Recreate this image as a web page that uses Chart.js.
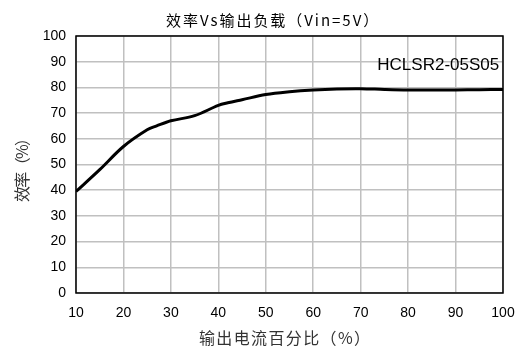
<!DOCTYPE html>
<html>
<head>
<meta charset="utf-8">
<script src="https://cdn.jsdelivr.net/npm/chart.js@4/dist/chart.umd.min.js"></script>
<style>
  html, body { margin: 0; padding: 0; background: #fff; }
  #wrap { width: 525px; height: 347px; }
</style>
</head>
<body>
<div id="wrap"><canvas id="effChart" width="525" height="347"></canvas></div>
<script>
const loadPct = [10, 15, 20, 25, 27, 30, 35, 40, 42, 45, 50, 55, 60, 65, 70, 75, 80, 85, 90, 95, 100];
const efficiency = [39.5, 48, 57, 63.5, 65, 67, 69, 73, 74, 75.2, 77.2, 78.3, 79, 79.4, 79.5, 79.2, 79, 79, 79, 79.1, 79.2];
const xTicks = [10, 20, 30, 40, 50, 60, 70, 80, 90, 100];
const modelName = 'HCLSR2-05S05';
const chartTitle = '效率Vs输出负载（Vin=5V）';
const xTitle = '输出电流百分比（%）';
const yTitle = '效率（%）';

const latin = '"Liberation Sans", Arial, sans-serif';
const cjk = '"Noto Sans CJK SC", "Liberation Sans", sans-serif';

// draw text spread to a given width, centred on (cx, cy)
function spreadText(ctx, text, cx, cy, width) {
    const chars = Array.from(text);
    const natural = ctx.measureText(text).width;
    const gap = chars.length > 1 ? (width - natural) / (chars.length - 1) : 0;
    let x = cx - width / 2;
    ctx.textAlign = 'left';
    ctx.textBaseline = 'middle';
    chars.forEach(c => {
        ctx.fillText(c, x, cy);
        x += ctx.measureText(c).width + gap;
    });
}

const frame = {
    id: 'frame',
    afterDraw(chart) {
        const { ctx, chartArea: a, scales } = chart;
        ctx.save();
        ctx.strokeStyle = '#000';
        ctx.lineWidth = 1.5;
        ctx.strokeRect(a.left, a.top, a.right - a.left, a.bottom - a.top);

        ctx.fillStyle = '#000';
        ctx.font = '17px ' + latin;
        ctx.textAlign = 'right';
        ctx.textBaseline = 'middle';
        ctx.fillText(modelName, scales.x.getPixelForValue(99.2), scales.y.getPixelForValue(88.7));

        ctx.font = '15px ' + cjk;
        spreadText(ctx, chartTitle, 272, 20, 212);

        ctx.fillStyle = '#333';
        ctx.font = '16px ' + cjk;
        spreadText(ctx, xTitle, 284.5, 337.5, 171);

        ctx.translate(21.5, 166);
        ctx.rotate(-Math.PI / 2);
        spreadText(ctx, yTitle, 0, 0, 72);
        ctx.restore();
    }
};

new Chart(document.getElementById('effChart'), {
    type: 'line',
    data: {
        datasets: [{
            data: loadPct.map((x, i) => ({ x: x, y: efficiency[i] })),
            borderColor: '#000',
            borderWidth: 3,
            pointRadius: 0,
            tension: 0.35,
            fill: false
        }]
    },
    options: {
        responsive: false,
        animation: false,
        layout: { padding: { left: 0, right: 22, top: 36, bottom: 0 } },
        plugins: {
            legend: { display: false },
            tooltip: { enabled: false },
            title: { display: false }
        },
        scales: {
            x: {
                type: 'linear',
                min: 10,
                max: 100,
                afterBuildTicks: s => { s.ticks = xTicks.map(v => ({ value: v })); },
                afterFit: s => { s.height = 54; s.paddingLeft = 0; s.paddingRight = 0; },
                ticks: { color: '#000', font: { family: latin, size: 14 }, padding: 12, maxRotation: 0 },
                grid: { color: '#c0c0c0', lineWidth: 1.5, drawTicks: false },
                border: { display: false }
            },
            y: {
                min: 0,
                max: 100,
                afterFit: s => { s.width = 76; },
                ticks: { stepSize: 10, color: '#000', font: { family: latin, size: 14 }, padding: 10 },
                grid: { color: '#c0c0c0', lineWidth: 1.5, drawTicks: false },
                border: { display: false }
            }
        }
    },
    plugins: [frame]
});
</script>
</body>
</html>
